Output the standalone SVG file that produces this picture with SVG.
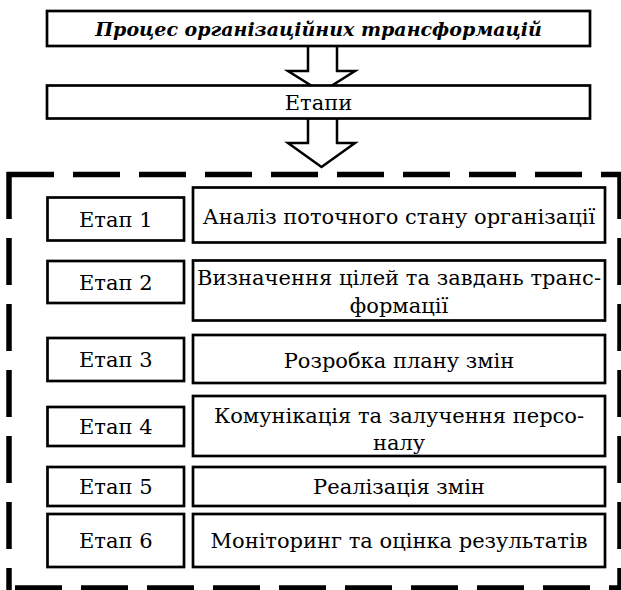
<svg xmlns="http://www.w3.org/2000/svg" width="621" height="590" viewBox="0 0 621 590">
<style>
.box{fill:#fff;stroke:#000;stroke-width:2.7}
.arr{fill:#fff;stroke:#000;stroke-width:2.5;stroke-linejoin:miter}
.dash{stroke:#000;stroke-width:5.5;stroke-dasharray:47 19;fill:none}
.t{font-family:"DejaVu Serif","Liberation Serif",serif;font-size:21px;fill:#000;text-anchor:middle}
.ti{font-family:"DejaVu Serif","Liberation Serif",serif;font-size:19px;font-weight:bold;font-style:italic;fill:#000;text-anchor:middle}
</style>
<rect width="621" height="590" fill="#fff"/>
<g id="connectors">
<polygon class="arr" points="308,45 337,45 337,71 355,71 321.5,92 288,71 308,71"/>
<polygon class="arr" points="308,118 337,118 337,143 355,143 321.5,167 288,143 308,143"/>
</g>
<g id="title">
<rect class="box" x="47" y="11" width="543" height="35"/>
<text class="ti" x="318.5" y="36">Процес організаційних трансформацій</text>
</g>
<g id="etapy">
<rect class="box" x="47" y="85.5" width="543" height="33"/>
<text class="t" x="318.5" y="110">Етапи</text>
</g>
<g id="frame">
<line class="dash" x1="7" y1="174.5" x2="621" y2="174.5"/>
<line class="dash" x1="9" y1="172" x2="9" y2="590"/>
<line class="dash" x1="620" y1="172" x2="620" y2="590"/>
<line class="dash" x1="15" y1="588" x2="621" y2="588"/>
</g>
<g id="stage1">
<rect class="box" x="47.5" y="197.5" width="136.5" height="43"/>
<text class="t" x="115.75" y="227">Етап 1</text>
</g>
<g id="desc1">
<rect class="box" x="193" y="187.5" width="412" height="55"/>
<text class="t" x="399" y="224">Аналіз поточного стану організації</text>
</g>
<g id="stage2">
<rect class="box" x="47.5" y="261" width="136.5" height="42"/>
<text class="t" x="115.75" y="290">Етап 2</text>
</g>
<g id="desc2">
<rect class="box" x="193" y="260.5" width="412" height="60"/>
<text class="t" x="399" y="285" textLength="404" lengthAdjust="spacing">Визначення цілей та завдань транс-</text>
<text class="t" x="399" y="313">формації</text>
</g>
<g id="stage3">
<rect class="box" x="47.5" y="338" width="136.5" height="43"/>
<text class="t" x="115.75" y="367">Етап 3</text>
</g>
<g id="desc3">
<rect class="box" x="193" y="335" width="412" height="48"/>
<text class="t" x="399" y="368">Розробка плану змін</text>
</g>
<g id="stage4">
<rect class="box" x="47.5" y="407" width="136.5" height="39"/>
<text class="t" x="115.75" y="434">Етап 4</text>
</g>
<g id="desc4">
<rect class="box" x="193" y="396" width="412" height="60"/>
<text class="t" x="399" y="423">Комунікація та залучення персо-</text>
<text class="t" x="399" y="450">налу</text>
</g>
<g id="stage5">
<rect class="box" x="47.5" y="467" width="136.5" height="39"/>
<text class="t" x="115.75" y="494">Етап 5</text>
</g>
<g id="desc5">
<rect class="box" x="193" y="467" width="412" height="39"/>
<text class="t" x="399" y="494">Реалізація змін</text>
</g>
<g id="stage6">
<rect class="box" x="47.5" y="514" width="136.5" height="53"/>
<text class="t" x="115.75" y="548">Етап 6</text>
</g>
<g id="desc6">
<rect class="box" x="193" y="514" width="412" height="53"/>
<text class="t" x="399" y="548">Моніторинг та оцінка результатів</text>
</g>
</svg>
